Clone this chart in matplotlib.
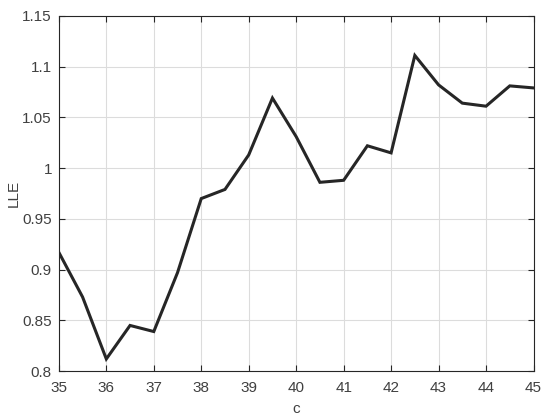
import numpy as np
import matplotlib
matplotlib.use("Agg")
import matplotlib.pyplot as plt

c = [35, 35.5, 36, 36.5, 37, 37.5, 38, 38.5, 39, 39.5, 40,
     40.5, 41, 41.5, 42, 42.5, 43, 43.5, 44, 44.5, 45]
lle = [0.917, 0.873, 0.812, 0.845, 0.839, 0.897, 0.970, 0.979, 1.013, 1.069, 1.031,
       0.986, 0.988, 1.022, 1.015, 1.111, 1.082, 1.064, 1.061, 1.081, 1.079]

xticks = list(range(35, 46))
yticks = [0.8, 0.85, 0.9, 0.95, 1.0, 1.05, 1.1, 1.15]
ytick_labels = ["0.8", "0.85", "0.9", "0.95", "1", "1.05", "1.1", "1.15"]

plt.rcParams['font.family'] = ['Liberation Sans', 'DejaVu Sans']

fig = plt.figure(figsize=(5.5, 4.17), dpi=100)
ax = fig.add_axes([0.107, 0.110, 0.863, 0.852])

ax.plot(c, lle, color='#262626', linewidth=2.2, solid_joinstyle='miter')

ax.set_xlim(35, 45)
ax.set_ylim(0.8, 1.15)
ax.set_xticks(xticks)
ax.set_yticks(yticks)
ax.set_yticklabels(ytick_labels)
ax.grid(True, color='#dcdcdc', linewidth=0.8)
ax.set_axisbelow(True)
ax.tick_params(direction='in', length=4, width=0.8, colors='#262626',
               labelcolor='#404040', labelsize=11, top=True, right=True,
               labeltop=False, labelright=False)
ax.tick_params(axis='x', pad=7)
ax.tick_params(axis='y', pad=5)
for s in ax.spines.values():
    s.set_color('#262626')
    s.set_linewidth(0.8)

ax.set_xlabel('c', fontsize=11, color='#404040', labelpad=5)
ax.set_ylabel('LLE', fontsize=11, color='#404040', labelpad=1)

fig.savefig('out.png', dpi=100)
